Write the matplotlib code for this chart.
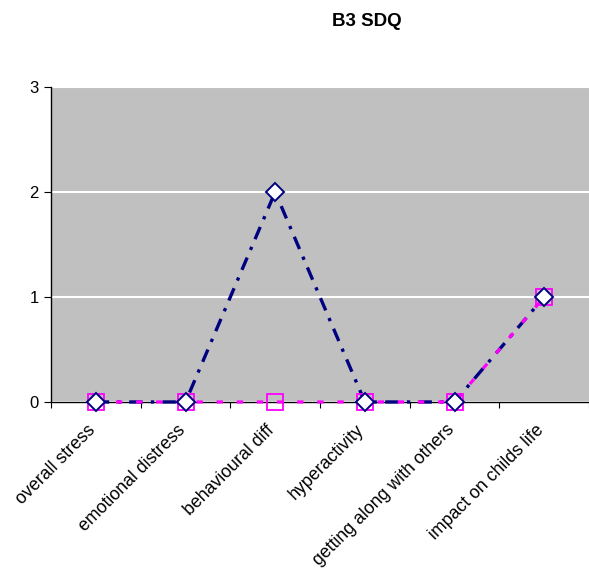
import matplotlib
matplotlib.use("Agg")
import matplotlib.pyplot as plt
import matplotlib.transforms as mtrans
import numpy as np

plt.rcParams["font.family"] = ["Liberation Sans", "DejaVu Sans"]

categories = ["overall stress", "emotional distress", "behavioural diff",
              "hyperactivity", "getting along with others", "impact on childs life"]
series_navy = [0, 0, 2, 0, 0, 1]
series_magenta = [0, 0, 0, 0, 0, 1]
yticks = [0, 1, 2, 3]

fig = plt.figure(figsize=(5.89, 5.68), dpi=100)
ax = fig.add_axes([0.0866, 0.2923, 0.9134, 0.5545])
ax.set_facecolor("#c0c0c0")
x = np.arange(len(categories))

ax.plot(x, series_navy, color="#000080", lw=2.4, linestyle=(0, (4, 2.5, 1, 2.5)),
        zorder=3, clip_on=False)
ax.plot(x, series_magenta, color="#ff00ff", lw=2.3, linestyle=(0, (2, 4.3)),
        zorder=4, clip_on=False)
ax.plot(x, series_magenta, linestyle="none", marker="s", ms=11, mfc="none",
        mec="#ff00ff", mew=1.3, zorder=5, clip_on=False)
ax.plot(x, series_navy, linestyle="none", marker="D", ms=9.5, mfc="white",
        mec="#000080", mew=1.4, zorder=6, clip_on=False)

ax.set_xlim(-0.5, len(categories) - 0.5)
ax.set_ylim(0, 3)
ax.set_yticks(yticks)
ax.set_yticklabels([str(v) for v in yticks], fontsize=12)
ax.yaxis.grid(True, color="white", lw=1.5)
ax.set_axisbelow(True)

ax.set_xticks(np.arange(-0.5, len(categories) + 0.5, 1.0))
ax.set_xticklabels([])
ax.set_xticks(x, minor=True)
ax.set_xticklabels(categories, minor=True, rotation=45, ha="right",
                   rotation_mode="anchor", fontsize=12.8)
ax.tick_params(axis="x", which="minor", length=0, pad=14)
ax.tick_params(axis="x", which="major", length=4, direction="out")
ax.tick_params(axis="y", length=5, direction="out", pad=4)

offset = mtrans.ScaledTranslation(-9 / 100, 0, fig.dpi_scale_trans)
for lbl in ax.get_xticklabels(minor=True):
    lbl.set_transform(lbl.get_transform() + offset)

for s in ["top", "right"]:
    ax.spines[s].set_visible(False)
for s in ["left", "bottom"]:
    ax.spines[s].set_color("black")
    ax.spines[s].set_linewidth(1.0)

fig.text(0.623, 0.963, "B3 SDQ", fontsize=13.5, fontweight="bold", ha="center", va="center")

fig.savefig("out.png", dpi=100)
